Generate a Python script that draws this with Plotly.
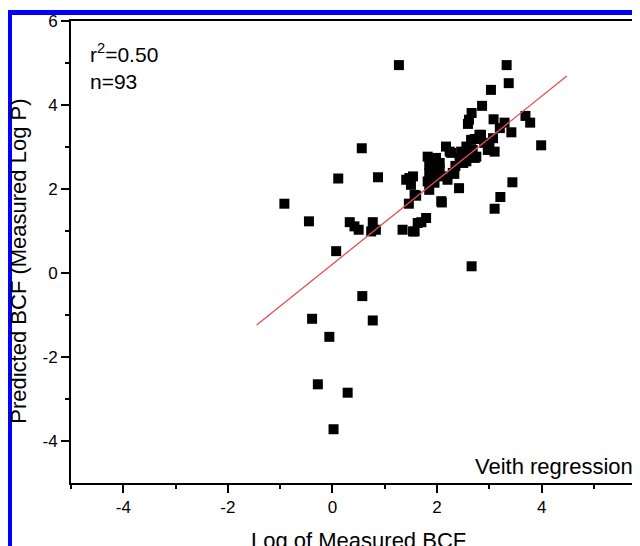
import plotly.graph_objects as go

# Log of measured BCF (x) and predicted BCF (y)
measured_bcf = [
    1.27, 3.33, 3.37, 3.03, 2.86, 2.66, 2.61, 2.59, 3.08, 3.29,
    3.69, 3.78, 3.42, 3.99, 2.84, 2.72, 3.07, 3.00, 3.10, 2.68,
    2.72, 2.56, 2.46, 2.43, 2.50, 2.17, 2.24, 2.33, 2.20, 2.11,
    1.82, 1.85, 2.01, 2.05, 1.85, 1.82, 1.95, 1.85, 2.42, 2.09,
    1.54, 1.41, 1.50, 1.60, 1.46, 1.79, 1.70, 1.57, 1.34, 3.44,
    3.21, 3.10, 2.66, 0.87, 0.56, 0.11, -0.92, -0.45, 0.33, 0.42,
    0.50, 0.77, 0.83, 0.74, 0.07, 0.57, -0.39, 0.77, -0.06, -0.28,
    0.29, 0.02, 2.81, 2.65, 2.27, 2.49, 2.05, 1.89, 2.30, 1.47,
    1.57, 2.08, 1.63, 1.54, 1.98, 2.56, 2.75, 2.97, 2.35, 2.60,
    1.95, 2.90, 3.20,
]
predicted_bcf = [
    4.95, 4.95, 4.52, 4.36, 3.98, 3.81, 3.65, 3.55, 3.66, 3.58,
    3.74, 3.58, 3.35, 3.04, 3.29, 3.19, 3.21, 3.01, 2.89, 2.93,
    2.74, 3.01, 2.89, 2.74, 2.62, 3.01, 2.89, 2.36, 2.22, 2.30,
    2.77, 2.58, 2.58, 2.46, 2.38, 2.18, 2.30, 1.98, 2.02, 1.68,
    2.30, 2.22, 2.10, 1.84, 1.65, 1.31, 1.21, 0.99, 1.03, 2.16,
    1.81, 1.53, 0.16, 2.28, 2.97, 2.25, 1.65, 1.23, 1.21, 1.11,
    1.03, 1.21, 1.03, 0.99, 0.52, -0.55, -1.09, -1.13, -1.52, -2.65,
    -2.85, -3.72, 3.29, 3.17, 2.86, 2.81, 2.62, 2.46, 2.38, 2.26,
    1.86, 1.71, 1.19, 0.99, 2.74, 2.66, 2.77, 2.93, 2.55, 2.85,
    2.15, 3.10, 3.45,
]

# Regression line end points
fit_x = [-1.45, 4.48]
fit_y = [-1.24, 4.69]

x_ticks = [-4, -2, 0, 2, 4]
y_ticks = [-4, -2, 0, 2, 4, 6]

FONT = "Liberation Sans, Arial, sans-serif"

fig = go.Figure()
fig.add_trace(go.Scatter(
    x=measured_bcf, y=predicted_bcf, mode="markers",
    marker=dict(symbol="square", size=10, color="black", line=dict(width=0)),
    showlegend=False,
))
fig.add_trace(go.Scatter(
    x=fit_x, y=fit_y, mode="lines",
    line=dict(color="rgb(228,80,80)", width=1.3),
    showlegend=False,
))

# The page body has an 8px margin; work in window pixels and shift.
OFF = 8
WIN_W, WIN_H = 640, 546
W, H = WIN_W - OFF, WIN_H - OFF
PLOT_L, PLOT_T, PLOT_B = 71, 21, 483.5   # window pixels
L = PLOT_L - OFF
T = PLOT_T - OFF
B = WIN_H - PLOT_B
pw = W - L
ph = H - T - B

def px_to_paper_x(px):
    return (px - PLOT_L) / pw

def px_to_paper_y(py):
    return (PLOT_B - py) / ph

fig.update_layout(
    width=W, height=H,
    margin=dict(l=L, r=0, t=T, b=B, pad=0),
    paper_bgcolor="white", plot_bgcolor="white",
    font=dict(family=FONT, color="black", size=17),
    xaxis=dict(
        range=[-5, 5.88], tickvals=x_ticks, ticktext=[str(v) for v in x_ticks],
        ticks="outside", ticklen=8, tickwidth=2, tickcolor="black",
        showline=True, linewidth=2, linecolor="black", mirror=True,
        showgrid=False, zeroline=False,
        tickfont=dict(size=17, family=FONT),
        minor=dict(tickvals=[-5, -3, -1, 1, 3, 5], ticks="outside", ticklen=4,
                   tickwidth=2, tickcolor="black", showgrid=False),
    ),
    yaxis=dict(
        range=[-5, 6], tickvals=y_ticks, ticktext=[str(v) for v in y_ticks],
        ticks="outside", ticklen=8, tickwidth=2, tickcolor="black",
        showline=True, linewidth=2, linecolor="black", mirror=False,
        showgrid=False, zeroline=False,
        tickfont=dict(size=17, family=FONT),
        minor=dict(tickvals=[-3, -1, 1, 3, 5], ticks="outside", ticklen=4,
                   tickwidth=2, tickcolor="black", showgrid=False),
    ),
    annotations=[
        dict(text="r<sup>2</sup>=0.50<br>n=93", xref="paper", yref="paper",
             x=px_to_paper_x(88), y=px_to_paper_y(38), xanchor="left", yanchor="top",
             align="left", showarrow=False, font=dict(size=21, family=FONT)),
        dict(text="Veith regression", xref="paper", yref="paper",
             x=px_to_paper_x(635), y=px_to_paper_y(467), xanchor="right", yanchor="middle",
             showarrow=False, font=dict(size=22, family=FONT)),
        dict(text="Log of Measured BCF", xref="paper", yref="paper",
             x=px_to_paper_x(358), y=px_to_paper_y(527), xanchor="center", yanchor="top",
             showarrow=False, font=dict(size=22, family=FONT)),
        dict(text="Predicted BCF (Measured Log P)", xref="paper", yref="paper",
             x=px_to_paper_x(19), y=px_to_paper_y(262), xanchor="center", yanchor="middle",
             textangle=-90, showarrow=False, font=dict(size=22, family=FONT)),
    ],
    shapes=[
        dict(type="line", xref="paper", yref="paper", layer="above",
             x0=px_to_paper_x(9.5), x1=px_to_paper_x(9.5),
             y0=px_to_paper_y(10), y1=px_to_paper_y(560),
             line=dict(color="#0000FF", width=5)),
        dict(type="line", xref="paper", yref="paper", layer="above",
             x0=px_to_paper_x(7), x1=px_to_paper_x(660),
             y0=px_to_paper_y(12.5), y1=px_to_paper_y(12.5),
             line=dict(color="#0000FF", width=5)),
    ],
)

fig.write_html("out.html")
